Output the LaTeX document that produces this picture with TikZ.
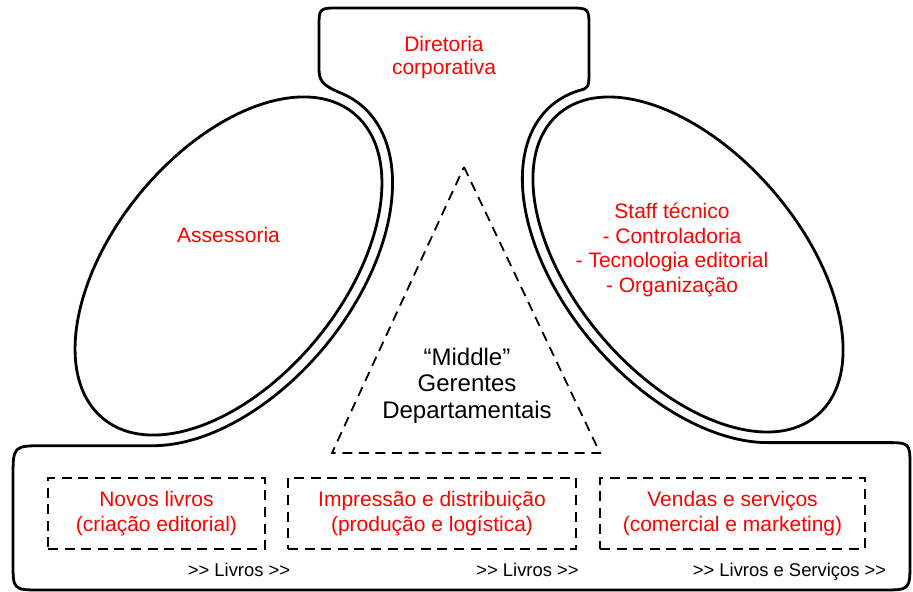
\documentclass[tikz,border=0pt]{standalone}
\usepackage{fontspec}
\setmainfont{Liberation Sans}
\newcommand{\dblgt}{>\kern0pt>}
\begin{document}
\begin{tikzpicture}[x=0.5pt,y=-0.5pt,
  contour/.style={line width=1.4pt, line join=round},
  dbox/.style={draw, dash pattern=on 5pt off 3.3pt, line width=0.9pt, inner sep=0pt, align=center, text=red, font=\fontsize{10.5}{12.5}\selectfont, minimum height=35.5pt},
  redtxt/.style={text=red, align=center, inner sep=0pt},
  flowlbl/.style={font=\fontsize{9.2}{11}\selectfont, inner sep=0pt, anchor=base},
  tri/.style={dash pattern=on 5pt off 3.3pt, line width=0.9pt}]
\useasboundingbox (0,0) rectangle (913,592);
% outer outline
\draw[contour] (319,68) -- (319,28) .. controls (319,8) .. (339,8) -- (569,8) .. controls (589,8) .. (589,28) -- (589,70) .. controls (589,88) .. (578,90.8)
 -- plot[domain=194:26.87, samples=80, variable=\t] ({688+136.7*cos(\t)-93.6*sin(\t)}, {264.5+158.9*cos(\t)+80.5*sin(\t)})
 -- (885,442.6) .. controls (910,442.6) .. (910,467) -- (910,562) .. controls (910,590) .. (882,590) -- (41,590) .. controls (13,590) .. (13,562) -- (13,478) .. controls (13,445.7) .. (45,445.7)
 -- plot[domain=153.7:-10, samples=80, variable=\t] ({228.5+132.3*cos(\t)+97*sin(\t)}, {266-161.1*cos(\t)+79.7*sin(\t)})
 .. controls (321,85) and (319,80) .. (319,68) -- cycle;
% ellipses
\draw[contour, rotate around={50.6:(228.5,266)}] (228.5,266) ellipse [x radius=197.5, y radius=114.5];
\draw[contour, rotate around={-49.3:(688,264.5)}] (688,264.5) ellipse [x radius=198.6, y radius=112.5];
% triangle
\coordinate (apex) at (464,167);
\coordinate (bl) at (332,453);
\coordinate (br) at (600,453);
\draw[tri] (apex) -- (br) -- (bl) -- cycle;
% texts
\node[redtxt, font=\fontsize{10.5}{11.2}\selectfont] (dir) at (444,57.5) {Diretoria\\corporativa};
\node[redtxt, font=\fontsize{10.5}{12}\selectfont, anchor=base] (ass) at (228.5,243) {Assessoria};
\node[redtxt, font=\fontsize{10.5}{12.4}\selectfont] (staff) at (672,250) {Staff técnico\\- Controladoria\\- Tecnologia editorial\\- Organização};
\node[align=center, inner sep=0pt, font=\fontsize{12}{13.3}\selectfont] (mid) at (467,385.4) {“Middle”\\Gerentes\\Departamentais};
% operating core boxes
\node[dbox, minimum width=108.5pt] (b1) at (156.5,513.5) {Novos livros\\(criação editorial)};
\node[dbox, minimum width=144pt] (b2) at (432,513.5) {Impressão e distribuição\\(produção e logística)};
\node[dbox, minimum width=132.5pt] (b3) at (732.5,513.5) {Vendas e serviços\\(comercial e marketing)};
% flow labels
\node[flowlbl] (f1) at (239,576.5) {\dblgt{} Livros \dblgt};
\node[flowlbl] (f2) at (527.5,576.5) {\dblgt{} Livros \dblgt};
\node[flowlbl] (f3) at (789.5,576.5) {\dblgt{} Livros e Serviços \dblgt};
\end{tikzpicture}
\end{document}
